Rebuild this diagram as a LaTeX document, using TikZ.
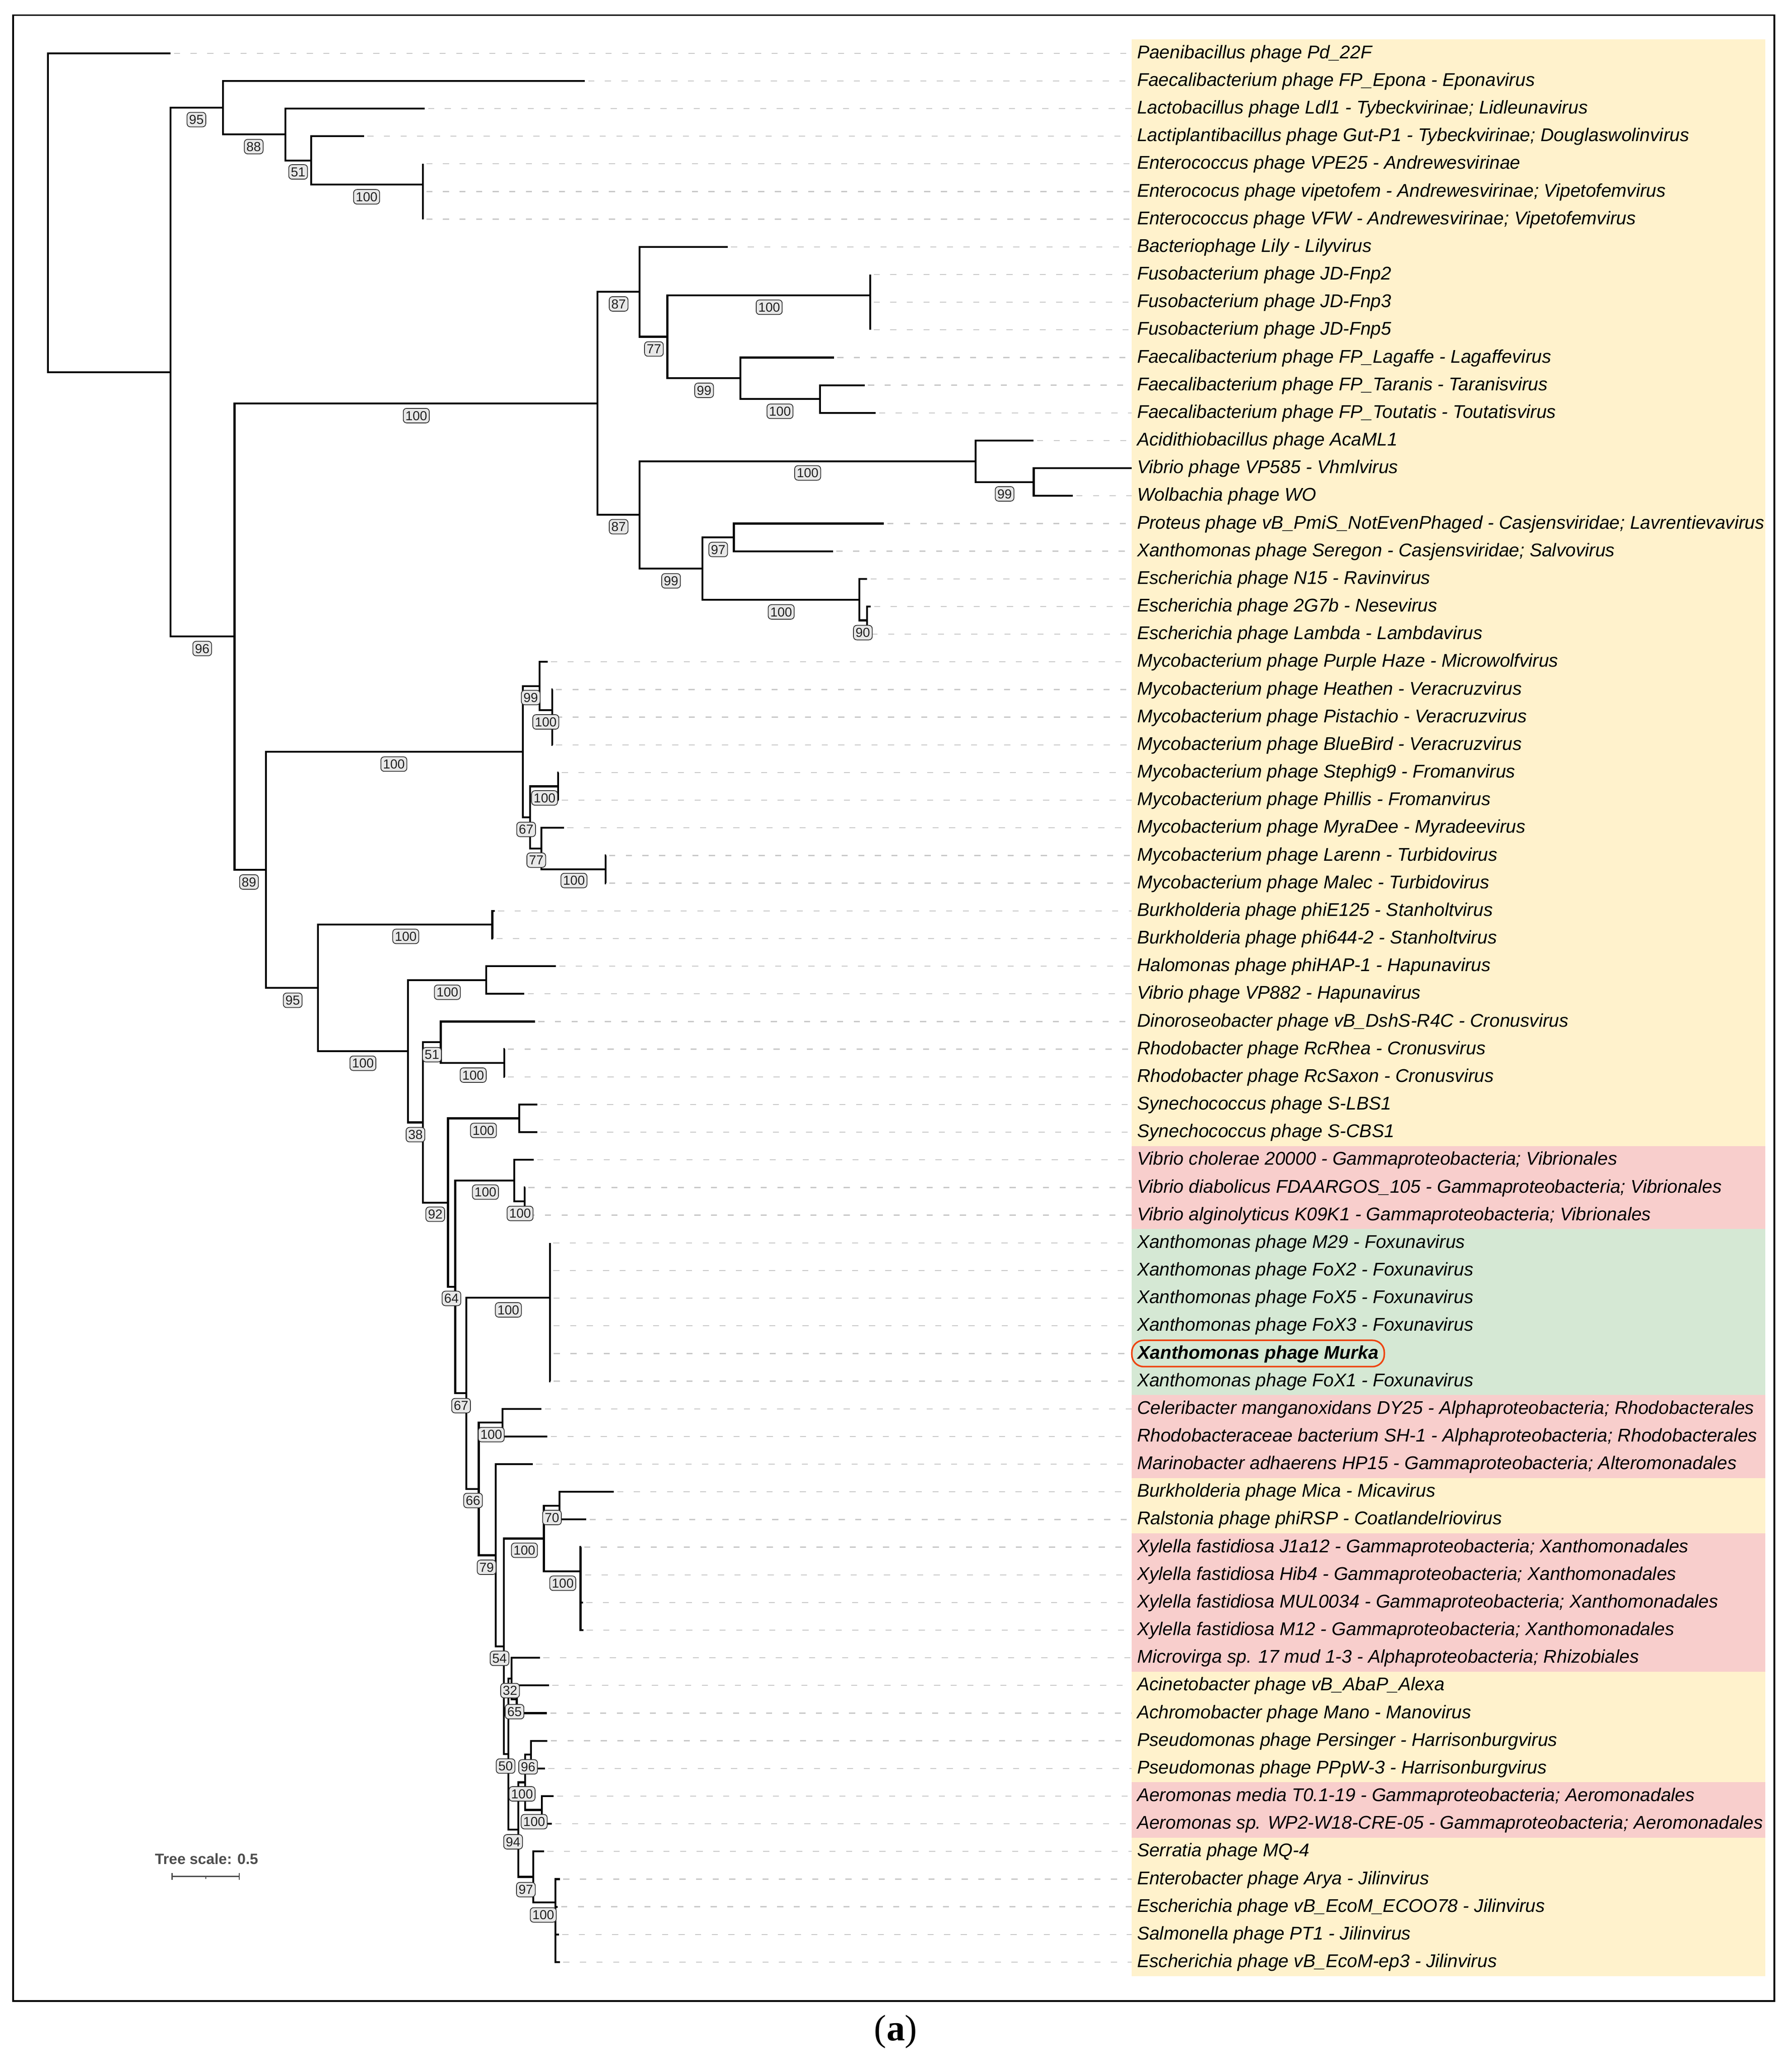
\documentclass[tikz,border=0pt]{standalone}
\usepackage{fontspec}
\setmainfont{Liberation Serif}
\newfontfamily\lsans{Liberation Sans}
\usetikzlibrary{calc}
\definecolor{bandY}{HTML}{FFF2CC}
\definecolor{bandP}{HTML}{F8CECC}
\definecolor{bandG}{HTML}{D5E8D4}
\definecolor{murkared}{HTML}{EE4411}
\definecolor{bsfill}{HTML}{E8E8E8}
\definecolor{bsdraw}{HTML}{333333}
\definecolor{dashgray}{HTML}{C8C8C8}
\definecolor{scalegray}{HTML}{4D4D4D}
\begin{document}
\begin{tikzpicture}[x=1pt,y=-1pt,
  br/.style={line width=1.45pt, line join=miter, line cap=butt},
  dsh/.style={draw=dashgray, line width=0.8pt, dash pattern=on 4.6pt off 8pt, dash phase=10pt},
  leaflab/.style={anchor=west, inner sep=0pt, text height=8pt, text depth=0pt, font=\lsans\itshape\fontsize{14}{16}\selectfont},
  bs/.style={draw=bsdraw, fill=bsfill, rounded corners=2.5pt, line width=0.6pt, inner xsep=1.6pt, inner ysep=2pt, text height=7pt, text depth=0pt, font=\lsans\fontsize{9.9}{10}\selectfont, text=black!88},
]
\useasboundingbox (0,0) rectangle (1360,1566);
\fill[white] (0,0) rectangle (1360,1566);

% colour bands
\fill[bandY] (859.2,29.9) rectangle (1340,869.9);
\fill[bandP] (859.2,869.9) rectangle (1340,932.9);
\fill[bandG] (859.2,932.9) rectangle (1340,1058.9);
\fill[bandP] (859.2,1058.9) rectangle (1340,1121.9);
\fill[bandY] (859.2,1121.9) rectangle (1340,1163.9);
\fill[bandP] (859.2,1163.9) rectangle (1340,1268.9);
\fill[bandY] (859.2,1268.9) rectangle (1340,1352.9);
\fill[bandP] (859.2,1352.9) rectangle (1340,1394.9);
\fill[bandY] (859.2,1394.9) rectangle (1340,1499.9);

\coordinate (bx) at (859.2,0);

% leaf tips
\foreach \i/\x in {1/129.5,2/444,3/322.4,4/276.3,5/321,6/321,7/321,8/552.4,9/660.6,10/660.6,
  11/660.6,12/633,13/656.4,14/664.7,15/784.7,16/859.2,17/814.5,18/671,19/632.4,20/658.3,
  21/661,22/659,23/415.7,24/419.3,25/419.5,26/419.5,27/423.9,28/423.9,29/428,30/459.9,
  31/459.9,32/375.5,33/374.3,34/422,35/398.1,36/406.1,37/383,38/383,39/407.8,40/407.8,
  41/405.2,42/398.5,43/398.5,44/417.4,45/417.4,46/417.6,47/417.6,48/417.8,49/417.8,50/411,
  51/415.6,52/404.4,53/465.9,54/445,55/440.9,56/441.6,57/442.5,58/442.8,59/409.9,60/416.7,
  61/415.2,62/415.6,63/413.7,64/420.4,65/419,66/412.9,67/425,68/423.5,69/424.3,70/425}
  {\coordinate (t\i) at (\x,{40.4+21*(\i-1)});}

% dashed leaders
\foreach \i in {1,...,15,17,18,...,70} {\draw[dsh] (t\i) -- (t\i -| bx);}

% internal nodes
\coordinate (R) at (36.3,161.45);
\coordinate (A) at (129.5,282.5);
\coordinate (B) at (169.3,81.75);
\coordinate (D) at (216.7,102.1);
\coordinate (E) at (236.3,121.8);
\coordinate (F) at (321,140.15);
\coordinate (G) at (321,155.9);
\coordinate (C) at (178,483.2);
\coordinate (H) at (453.6,306.15);
\coordinate (H1) at (485.4,221.5);
\coordinate (J) at (506.6,255.65);
\coordinate (K) at (660.6,224.15);
\coordinate (K2) at (660.6,239.9);
\coordinate (M) at (562.1,287.15);
\coordinate (N) at (622.5,302.9);
\coordinate (H2) at (485.4,390.8);
\coordinate (P) at (740.6,350.15);
\coordinate (Q) at (784.7,365.9);
\coordinate (R2) at (533.1,431.5);
\coordinate (S) at (557.1,407.9);
\coordinate (T) at (652.3,455.15);
\coordinate (U) at (658.3,470.9);
\coordinate (I) at (202,660.3);
\coordinate (V) at (396.8,570.65);
\coordinate (V1) at (409.7,520.8);
\coordinate (V2) at (419.1,539.15);
\coordinate (V2b) at (419.3,554.9);
\coordinate (V3) at (402.5,620.5);
\coordinate (V4) at (423.7,596.9);
\coordinate (V5) at (411.1,644.15);
\coordinate (V6) at (459.7,659.9);
\coordinate (W) at (241.4,749.9);
\coordinate (X1) at (373.7,701.9);
\coordinate (X2) at (309.6,797.95);
\coordinate (X3) at (369.2,743.9);
\coordinate (X4) at (320.9,852.0);
\coordinate (X5) at (334.6,791.15);
\coordinate (X6) at (382.8,806.9);
\coordinate (Y0) at (340.1,912.9);
\coordinate (X7) at (394.2,848.9);
\coordinate (Y2) at (345.6,976.9);
\coordinate (Z) at (390.5,896.15);
\coordinate (Z2) at (398.3,911.9);
\coordinate (Y3) at (354.1,1057.6);
\coordinate (FX) at (417.4,985);
\coordinate (Y4) at (363.4,1130.2);
\coordinate (Y5) at (381.5,1079.9);
\coordinate (Y6) at (376.3,1180.55);
\coordinate (Y7) at (382.5,1249.7);
\coordinate (Y8) at (412.9,1167.85);
\coordinate (Y9) at (424.7,1142.9);
\coordinate (Y10) at (440.7,1192.8);
\coordinate (Y11) at (386.0,1331.5);
\coordinate (Y12) at (388.3,1274.15);
\coordinate (Y13) at (392.3,1289.9);
\coordinate (Y14) at (393.5,1388.8);
\coordinate (Y15) at (398.6,1352.9);
\coordinate (Y16) at (403.0,1331.9);
\coordinate (Y17) at (411.4,1373.9);
\coordinate (Y18) at (404.9,1424.7);
\coordinate (Y19) at (421.5,1444);

% branches
\foreach \p/\c in {R/t1,R/A,A/B,A/C,B/t2,B/D,D/t3,D/E,E/t4,E/F,F/t5,F/G,G/t6,G/t7,
  C/H,C/I,H/H1,H/H2,H1/t8,H1/J,J/K,J/M,K/t9,K/K2,K2/t10,K2/t11,M/t12,M/N,N/t13,N/t14,
  H2/P,H2/R2,P/t15,P/Q,Q/t16,Q/t17,R2/S,R2/T,S/t18,S/t19,T/t20,T/U,U/t21,U/t22,
  I/V,I/W,V/V1,V/V3,V1/t23,V1/V2,V2/t24,V2/V2b,V2b/t25,V2b/t26,V3/V4,V3/V5,V4/t27,V4/t28,
  V5/t29,V5/V6,V6/t30,V6/t31,
  W/X1,W/X2,X1/t32,X1/t33,X2/X3,X2/X4,X3/t34,X3/t35,X4/X5,X4/Y0,X5/t36,X5/X6,X6/t37,X6/t38,
  Y0/X7,Y0/Y2,X7/t39,X7/t40,Y2/Z,Y2/Y3,Z/t41,Z/Z2,Z2/t42,Z2/t43,Y3/FX,Y3/Y4,
  FX/t44,FX/t45,FX/t46,FX/t47,FX/t48,FX/t49,Y4/Y5,Y4/Y6,Y5/t50,Y5/t51,Y6/t52,Y6/Y7,
  Y7/Y8,Y7/Y11,Y8/Y9,Y8/Y10,Y9/t53,Y9/t54,Y10/t55,Y10/t56,Y10/t57,Y10/t58,
  Y11/Y12,Y11/Y14,Y12/t59,Y12/Y13,Y13/t60,Y13/t61,Y14/Y15,Y14/Y18,Y15/Y16,Y15/Y17,
  Y16/t62,Y16/t63,Y17/t64,Y17/t65,Y18/t66,Y18/Y19,Y19/t67,Y19/t68,Y19/t69,Y19/t70}
  {\draw[br] (\p) |- (\c);}

% leaf labels
\foreach \i/\lab in {
 1/Paenibacillus phage Pd\_22F,
 2/Faecalibacterium phage FP\_Epona - Eponavirus,
 3/Lactobacillus phage Ldl1 - Tybeckvirinae; Lidleunavirus,
 4/Lactiplantibacillus phage Gut-P1 - Tybeckvirinae; Douglaswolinvirus,
 5/Enterococcus phage VPE25 - Andrewesvirinae,
 6/Enterococus phage vipetofem - Andrewesvirinae; Vipetofemvirus,
 7/Enterococcus phage VFW - Andrewesvirinae; Vipetofemvirus,
 8/Bacteriophage Lily - Lilyvirus,
 9/Fusobacterium phage JD-Fnp2,
 10/Fusobacterium phage JD-Fnp3,
 11/Fusobacterium phage JD-Fnp5,
 12/Faecalibacterium phage FP\_Lagaffe - Lagaffevirus,
 13/Faecalibacterium phage FP\_Taranis - Taranisvirus,
 14/Faecalibacterium phage FP\_Toutatis - Toutatisvirus,
 15/Acidithiobacillus phage AcaML1,
 16/Vibrio phage VP585 - Vhmlvirus,
 17/Wolbachia phage WO,
 18/Proteus phage vB\_PmiS\_NotEvenPhaged - Casjensviridae; Lavrentievavirus,
 19/Xanthomonas phage Seregon - Casjensviridae; Salvovirus,
 20/Escherichia phage N15 - Ravinvirus,
 21/Escherichia phage 2G7b - Nesevirus,
 22/Escherichia phage Lambda - Lambdavirus,
 23/Mycobacterium phage Purple Haze - Microwolfvirus,
 24/Mycobacterium phage Heathen - Veracruzvirus,
 25/Mycobacterium phage Pistachio - Veracruzvirus,
 26/Mycobacterium phage BlueBird - Veracruzvirus,
 27/Mycobacterium phage Stephig9 - Fromanvirus,
 28/Mycobacterium phage Phillis - Fromanvirus,
 29/Mycobacterium phage MyraDee - Myradeevirus,
 30/Mycobacterium phage Larenn - Turbidovirus,
 31/Mycobacterium phage Malec - Turbidovirus,
 32/Burkholderia phage phiE125 - Stanholtvirus,
 33/Burkholderia phage phi644-2 - Stanholtvirus,
 34/Halomonas phage phiHAP-1 - Hapunavirus,
 35/Vibrio phage VP882 - Hapunavirus,
 36/Dinoroseobacter phage vB\_DshS-R4C - Cronusvirus,
 37/Rhodobacter phage RcRhea - Cronusvirus,
 38/Rhodobacter phage RcSaxon - Cronusvirus,
 39/Synechococcus phage S-LBS1,
 40/Synechococcus phage S-CBS1,
 41/Vibrio cholerae 20000 - Gammaproteobacteria; Vibrionales,
 42/Vibrio diabolicus FDAARGOS\_105 - Gammaproteobacteria; Vibrionales,
 43/Vibrio alginolyticus K09K1 - Gammaproteobacteria; Vibrionales,
 44/Xanthomonas phage M29 - Foxunavirus,
 45/Xanthomonas phage FoX2 - Foxunavirus,
 46/Xanthomonas phage FoX5 - Foxunavirus,
 47/Xanthomonas phage FoX3 - Foxunavirus,
 49/Xanthomonas phage FoX1 - Foxunavirus,
 50/Celeribacter manganoxidans DY25 - Alphaproteobacteria; Rhodobacterales,
 51/Rhodobacteraceae bacterium SH-1 - Alphaproteobacteria; Rhodobacterales,
 52/Marinobacter adhaerens HP15 - Gammaproteobacteria; Alteromonadales,
 53/Burkholderia phage Mica - Micavirus,
 54/Ralstonia phage phiRSP - Coatlandelriovirus,
 55/Xylella fastidiosa J1a12 - Gammaproteobacteria; Xanthomonadales,
 56/Xylella fastidiosa Hib4 - Gammaproteobacteria; Xanthomonadales,
 57/Xylella fastidiosa MUL0034 - Gammaproteobacteria; Xanthomonadales,
 58/Xylella fastidiosa M12 - Gammaproteobacteria; Xanthomonadales,
 59/Microvirga sp. 17 mud 1-3 - Alphaproteobacteria; Rhizobiales,
 60/Acinetobacter phage vB\_AbaP\_Alexa,
 61/Achromobacter phage Mano - Manovirus,
 62/Pseudomonas phage Persinger - Harrisonburgvirus,
 63/Pseudomonas phage PPpW-3 - Harrisonburgvirus,
 64/Aeromonas media T0.1-19 - Gammaproteobacteria; Aeromonadales,
 65/Aeromonas sp. WP2-W18-CRE-05 - Gammaproteobacteria; Aeromonadales,
 66/Serratia phage MQ-4,
 67/Enterobacter phage Arya - Jilinvirus,
 68/Escherichia phage vB\_EcoM\_ECOO78 - Jilinvirus,
 69/Salmonella phage PT1 - Jilinvirus,
 70/Escherichia phage vB\_EcoM-ep3 - Jilinvirus}
 {\node[leaflab] (l\i) at (863,{40.4+21*(\i-1)}) {\lab};}

\node[leaflab, draw=murkared, line width=1.2pt, rounded corners=9pt, inner xsep=4.4pt, inner ysep=6pt,
  font=\lsans\bfseries\itshape\fontsize{14}{16}\selectfont] (l48) at (858.6,1027.4) {Xanthomonas phage Murka};

% bootstrap values
\foreach \n/\x/\y/\v in {bB/149.1/90.8/95, bD/192.6/111.3/88, bE/226.3/130.5/51, bF/278.3/149.4/100,
  bC/153.5/492.3/96, bH/316/315.5/100, bH1/469.6/230.7/87, bJ/496.4/264.9/77, bK/583.9/233.2/100,
  bM/534.5/296.3/99, bN/592.1/312.2/100, bH2/469.6/399.8/87, bP/613.1/359/100, bQ/762.6/374.9/99,
  bR2/509.4/440.9/99, bS/545.2/417.1/97, bT/593/464.5/100, bU/655/480.2/90, bI/189/669.5/89,
  bV/299/580/100, bV1/402.9/529.5/99, bV2/414.3/548/100, bV3/399.4/629.6/67, bV4/413.4/605.7/100,
  bV5/407.1/652.9/77, bV6/435.7/668.4/100, bW/222.2/759.3/95, bX1/308/710.8/100, bX2/275.5/807.1/100,
  bX3/339.6/753.2/100, bX4/315.4/861.3/38, bX5/327.9/800.6/51, bX6/359.2/816.1/100, bX7/367/858.1/100,
  bY0/330.4/921.7/92, bY2/342.7/985.6/64, bZ/368.5/904.9/100, bZ2/394.8/921.1/100, bFX/385.9/994.3/100,
  bY3/350/1067/67, bY4/359.1/1139/66, bY5/372.9/1089/100, bY6/369.4/1189.7/79, bY7/379.2/1258.8/54,
  bY8/398.1/1176.8/100, bY9/419/1151.9/70, bY10/427.2/1201.8/100, bY11/383.8/1340.6/50,
  bY12/387.2/1283.3/32, bY13/390.6/1299.3/65, bY14/389.5/1398.1/94, bY15/396.3/1361.7/100,
  bY16/400.9/1341.2/96, bY17/405.5/1382.8/100, bY18/399.2/1434.4/97, bY19/412.4/1453.6/100}
  {\node[bs] (\n) at (\x,\y) {\v};}

% tree scale
\node[anchor=base, inner sep=0pt, text=scalegray, font=\lsans\bfseries\fontsize{11.3}{12}\selectfont] (tscale) at (156.8,1415.2) {Tree scale: 0.5};
\coordinate (sb1) at (130.6,1424.3);
\coordinate (sb2) at (181.7,1424.3);
\coordinate (sbm) at (156.1,1424.3);
\draw[scalegray, line width=0.8pt] (sb1) -- (sb2);
\draw[scalegray, line width=0.8pt] ([yshift=2.6pt]sb1) -- ([yshift=-2.6pt]sb1);
\draw[scalegray, line width=0.8pt] ([yshift=2.6pt]sb2) -- ([yshift=-2.6pt]sb2);
\draw[scalegray, line width=0.6pt] (sbm) -- ([yshift=-1.8pt]sbm);

% frame
\draw[line width=1.2pt] (10,11.5) rectangle (1347,1519);

% caption
\node[anchor=base, inner sep=0pt, font=\fontsize{28}{30}\selectfont] (cap) at (680,1549) {(\textbf{a})};
\end{tikzpicture}
\end{document}
